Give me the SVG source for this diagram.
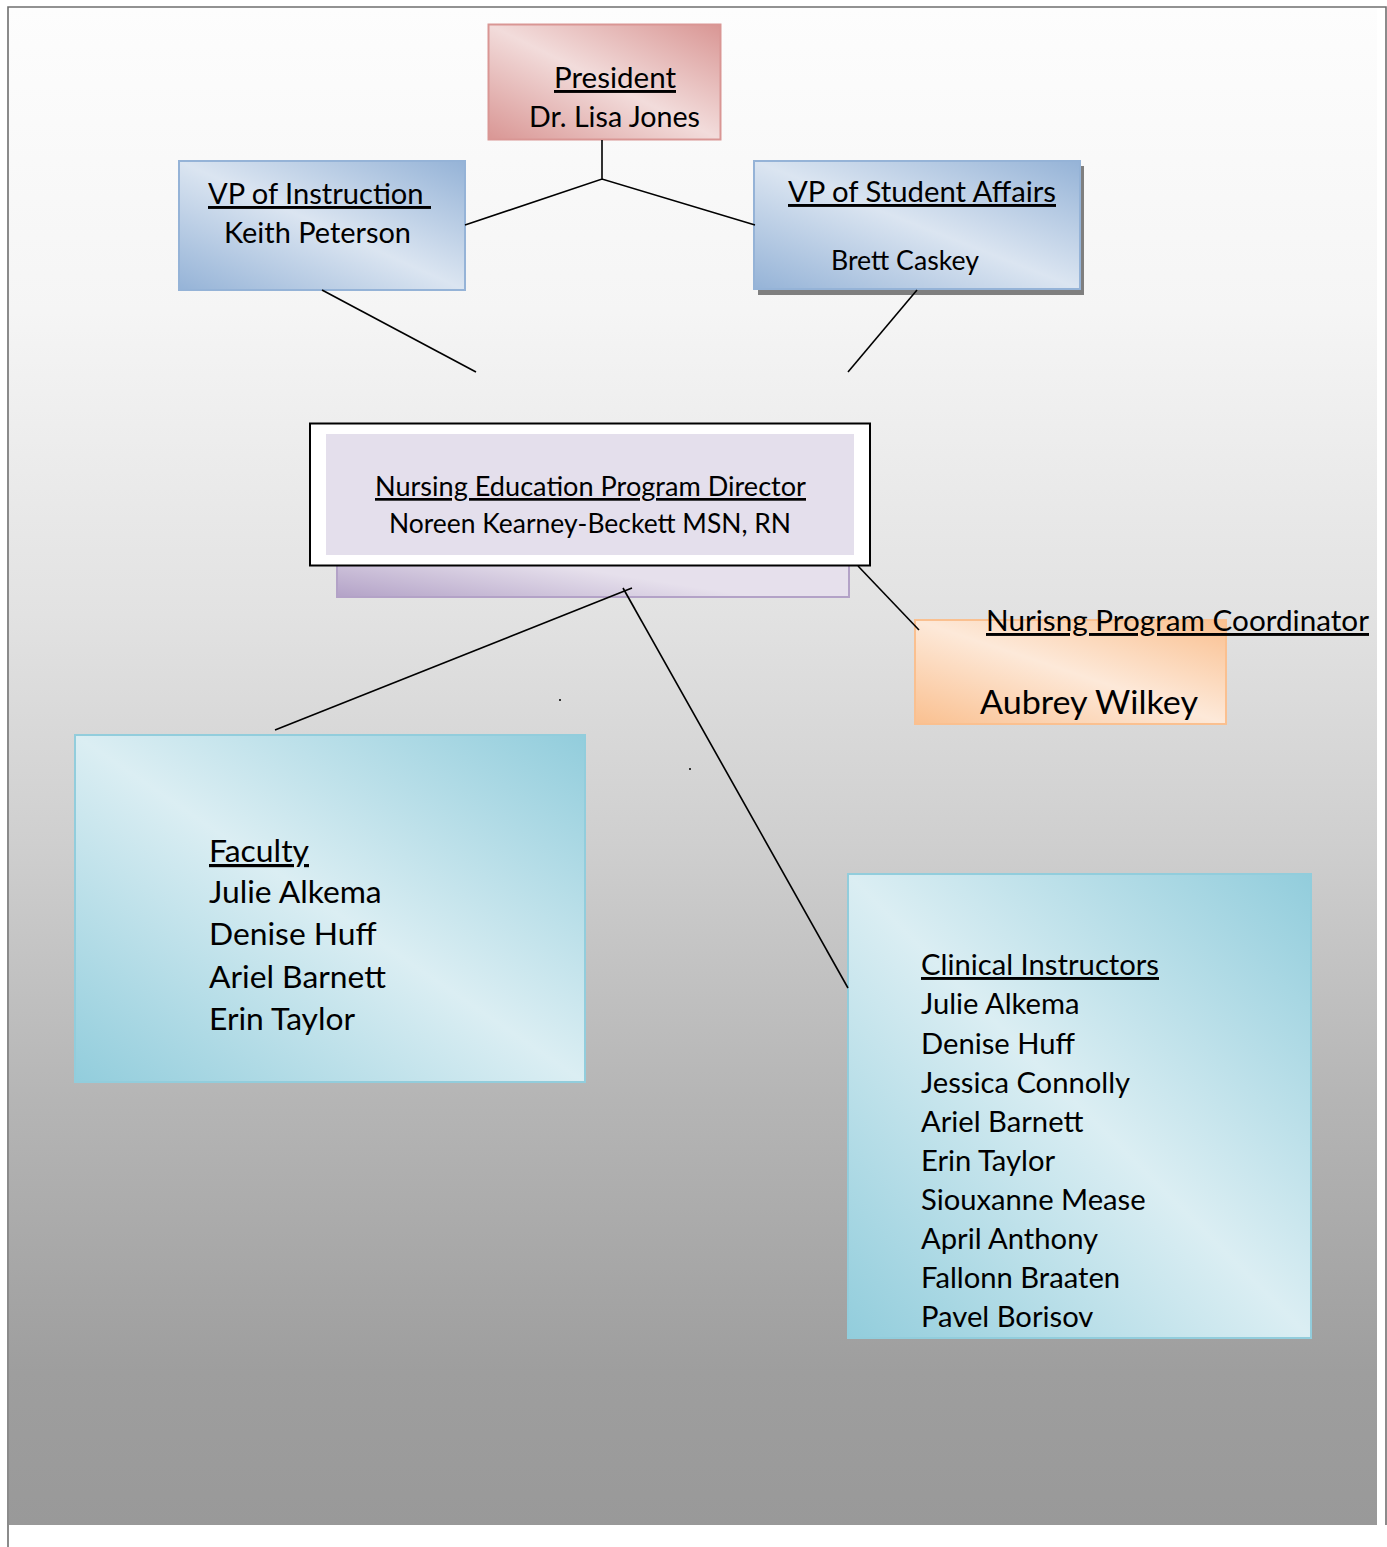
<svg xmlns="http://www.w3.org/2000/svg" width="1387" height="1547" viewBox="0 0 1387 1547">
<defs>
<linearGradient id="bg" x1="0" y1="0" x2="0" y2="1">
<stop offset="0" stop-color="#fdfdfd"/><stop offset="0.2" stop-color="#f5f5f5"/><stop offset="0.4" stop-color="#e2e2e2"/><stop offset="0.55" stop-color="#cfcfcf"/><stop offset="0.72" stop-color="#b5b5b5"/><stop offset="0.9" stop-color="#9e9e9e"/><stop offset="1" stop-color="#999999"/>
</linearGradient>
<linearGradient id="gPink" x1="0" y1="1" x2="1" y2="0"><stop offset="0" stop-color="#d99694"/><stop offset="0.5" stop-color="#f2dcdb"/><stop offset="1" stop-color="#d99694"/></linearGradient>
<linearGradient id="gBlue" x1="0" y1="1" x2="1" y2="0"><stop offset="0" stop-color="#95b3d7"/><stop offset="0.5" stop-color="#dbe5f1"/><stop offset="1" stop-color="#95b3d7"/></linearGradient>
<linearGradient id="gOrange" x1="0" y1="1" x2="1" y2="0"><stop offset="0" stop-color="#fac090"/><stop offset="0.5" stop-color="#fde9d9"/><stop offset="1" stop-color="#fac090"/></linearGradient>
<linearGradient id="gAqua" x1="0" y1="1" x2="1" y2="0"><stop offset="0" stop-color="#92cddc"/><stop offset="0.5" stop-color="#dbeef3"/><stop offset="1" stop-color="#92cddc"/></linearGradient>
<linearGradient id="gPurple" x1="0" y1="1" x2="1" y2="0.3"><stop offset="0" stop-color="#b3a2c7"/><stop offset="0.55" stop-color="#e6e0ec"/><stop offset="1" stop-color="#e6e0ec"/></linearGradient>
</defs>
<style>
text{font-family:Lato,"Liberation Sans",sans-serif;fill:#000}
.t{font-size:29.2px}
.s{font-size:27px}
.u{text-decoration:underline}
.conn{stroke:#000;stroke-width:1.6;fill:none}
.frame{stroke:#6f6f6f;stroke-width:1.6;fill:none}
</style>

<rect x="9" y="8" width="1368" height="1517" fill="url(#bg)"/>
<g id="frame">
<path class="frame" d="M8 1547V7H1386V1525"/>
</g>

<g id="president">
<rect x="488.5" y="24.5" width="232" height="115" fill="url(#gPink)" stroke="#d99694" stroke-width="2"/>
<text class="t u" x="554" y="88" textLength="122" lengthAdjust="spacingAndGlyphs">President</text>
<text class="t" x="529" y="127" textLength="171" lengthAdjust="spacingAndGlyphs">Dr. Lisa Jones</text>
</g>

<g id="vp-instruction">
<rect x="179" y="161" width="286" height="129" fill="url(#gBlue)" stroke="#95b3d7" stroke-width="2"/>
<text class="t u" x="208" y="204" textLength="223" lengthAdjust="spacingAndGlyphs">VP of Instruction&#160;</text>
<text class="t" x="224" y="243" textLength="187" lengthAdjust="spacingAndGlyphs">Keith Peterson</text>
</g>

<g id="vp-student-affairs">
<rect x="758" y="166" width="326" height="129" fill="#7f7f7f"/>
<rect x="754" y="161" width="326" height="128" fill="url(#gBlue)" stroke="#95b3d7" stroke-width="2"/>
<text class="t u" x="788" y="202" textLength="268" lengthAdjust="spacingAndGlyphs">VP of Student Affairs</text>
<text class="s" x="831" y="270" textLength="148" lengthAdjust="spacingAndGlyphs">Brett Caskey</text>
</g>

<g id="director">
<rect x="337" y="540" width="512" height="57" fill="url(#gPurple)" stroke="#b3a2c7" stroke-width="2"/>
<rect x="310" y="423.5" width="560" height="142" fill="#ffffff" stroke="#000" stroke-width="2"/>
<rect x="326" y="434" width="528" height="121" fill="#e4dfec"/>
<text class="s u" x="375" y="496" textLength="431" lengthAdjust="spacingAndGlyphs">Nursing Education Program Director</text>
<text class="s" x="389" y="533" textLength="402" lengthAdjust="spacingAndGlyphs">Noreen Kearney-Beckett MSN, RN</text>
</g>

<g id="coordinator">
<rect x="915" y="620" width="311" height="104" fill="url(#gOrange)" stroke="#fac090" stroke-width="2"/>
<text class="t u" x="986" y="631" textLength="383" lengthAdjust="spacingAndGlyphs">Nurisng Program Coordinator</text>
<text x="980" y="714" style="font-size:33.5px" textLength="218" lengthAdjust="spacingAndGlyphs">Aubrey Wilkey</text>
</g>

<g id="faculty">
<rect x="75" y="735" width="510" height="347" fill="url(#gAqua)" stroke="#92cddc" stroke-width="2"/>
<g style="font-size:31.8px">
<text class="u" x="209" y="862" textLength="100" lengthAdjust="spacingAndGlyphs">Faculty</text>
<text x="209" y="903">Julie Alkema</text>
<text x="209" y="945">Denise Huff</text>
<text x="209" y="988">Ariel Barnett</text>
<text x="209" y="1030">Erin Taylor</text>
</g>
</g>

<g id="clinical-instructors">
<rect x="848" y="874" width="463" height="464" fill="url(#gAqua)" stroke="#92cddc" stroke-width="2"/>
<g class="t">
<text class="u" x="921" y="975" textLength="238" lengthAdjust="spacingAndGlyphs">Clinical Instructors</text>
<text x="921" y="1014">Julie Alkema</text>
<text x="921" y="1054">Denise Huff</text>
<text x="921" y="1093">Jessica Connolly</text>
<text x="921" y="1132">Ariel Barnett</text>
<text x="921" y="1171">Erin Taylor</text>
<text x="921" y="1210">Siouxanne Mease</text>
<text x="921" y="1249">April Anthony</text>
<text x="921" y="1288">Fallonn Braaten</text>
<text x="921" y="1327">Pavel Borisov</text>
</g>
</g>

<g id="connectors">
<path class="conn" d="M602 140V179M465 225L602 179L755 225"/>
<path class="conn" d="M322 290L476 372"/>
<path class="conn" d="M917 290L848 372"/>
<path class="conn" d="M858 566L919 630"/>
<path class="conn" d="M275 730L632 588"/>
<path class="conn" d="M623 588L848 988"/>
<rect x="559" y="699" width="2" height="2" fill="#333"/>
<rect x="689" y="768" width="2" height="2" fill="#333"/>
</g>
</svg>
